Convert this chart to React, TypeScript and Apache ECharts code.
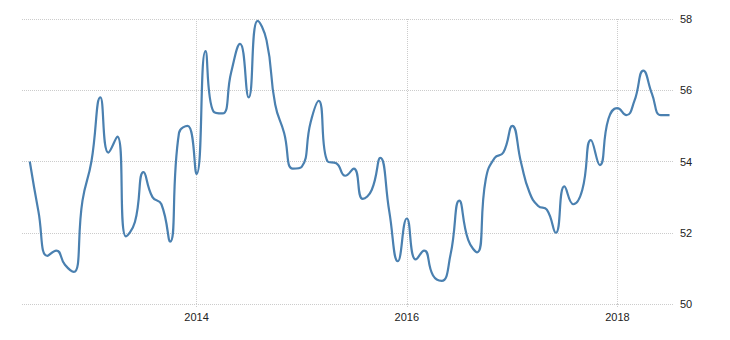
import React, { useEffect, useRef } from "react";
import * as echarts from "echarts";

const startYear = 2012;
const startMonth = 6; // June 2012
const values: number[] = [
  54.0, 52.6, 51.35, 51.5, 51.1, 50.9, 52.9, 54.0, 55.8, 54.25, 54.7, 51.9,
  52.3, 53.7, 53.0, 52.8, 51.75, 54.8, 55.0, 53.65, 57.1, 55.4, 55.35, 56.5,
  57.3, 55.8, 57.95, 57.4, 55.6, 54.8, 53.8, 53.85, 55.1, 55.7, 54.0, 53.95,
  53.6, 53.8, 52.95, 53.2, 54.1, 52.6, 51.2, 52.4, 51.25, 51.5, 50.8, 50.65,
  51.4, 52.9, 51.8, 51.45, 53.5, 54.1, 54.25, 55.0, 53.95, 53.15, 52.75, 52.65,
  52.0, 53.3, 52.8, 53.2, 54.6, 53.9, 55.2, 55.5, 55.3, 55.7, 56.55, 55.9,
  55.3, 55.3,
];
const yTicks = { min: 50, max: 58, interval: 2 };

function monthDate(i: number): number {
  const m = startMonth - 1 + i;
  return new Date(startYear + Math.floor(m / 12), m % 12, 1).getTime();
}

export default function App() {
  const ref = useRef<HTMLDivElement>(null);
  useEffect(() => {
    document.body.style.margin = "0";
    if (!ref.current) return;
    const chart = echarts.init(ref.current, null, { renderer: "svg" });
    const data = values.map((v, i) => [monthDate(i), v]);
    chart.setOption({
      animation: false,
      backgroundColor: "#ffffff",
      grid: { left: 22, right: 57, top: 19, bottom: 36, containLabel: false },
      xAxis: {
        type: "time",
        min: new Date(2012, 4, 5).getTime(),
        max: new Date(2018, 6, 13).getTime(),
        splitNumber: 3,
        axisLine: { show: false },
        axisTick: {
          show: true,
          length: 4,
          lineStyle: { color: "#cccccc", type: "dotted" },
        },
        axisLabel: {
          formatter: (v: number) => String(new Date(v).getFullYear()),
          color: "#222222",
          fontFamily: "Liberation Sans, Arial, sans-serif",
          fontSize: 11,
          margin: 7,
          showMinLabel: false,
          showMaxLabel: false,
        },
        splitLine: {
          show: true,
          showMinLine: false,
          showMaxLine: false,
          lineStyle: { color: "#cccccc", type: "dotted", width: 1 },
        },
      },
      yAxis: {
        type: "value",
        position: "right",
        min: yTicks.min,
        max: yTicks.max,
        interval: yTicks.interval,
        axisLine: { show: false },
        axisTick: { show: false },
        axisLabel: {
          color: "#222222",
          fontFamily: "Liberation Sans, Arial, sans-serif",
          fontSize: 11,
          margin: 7,
        },
        splitLine: {
          show: true,
          lineStyle: { color: "#cccccc", type: "dotted", width: 1 },
        },
      },
      series: [
        {
          type: "line",
          data,
          smooth: 0.5,
          showSymbol: false,
          symbol: "none",
          lineStyle: { color: "#4a80b0", width: 2.2 },
        },
      ],
    });
    return () => chart.dispose();
  }, []);
  return <div ref={ref} style={{ width: 730, height: 340 }} />;
}
